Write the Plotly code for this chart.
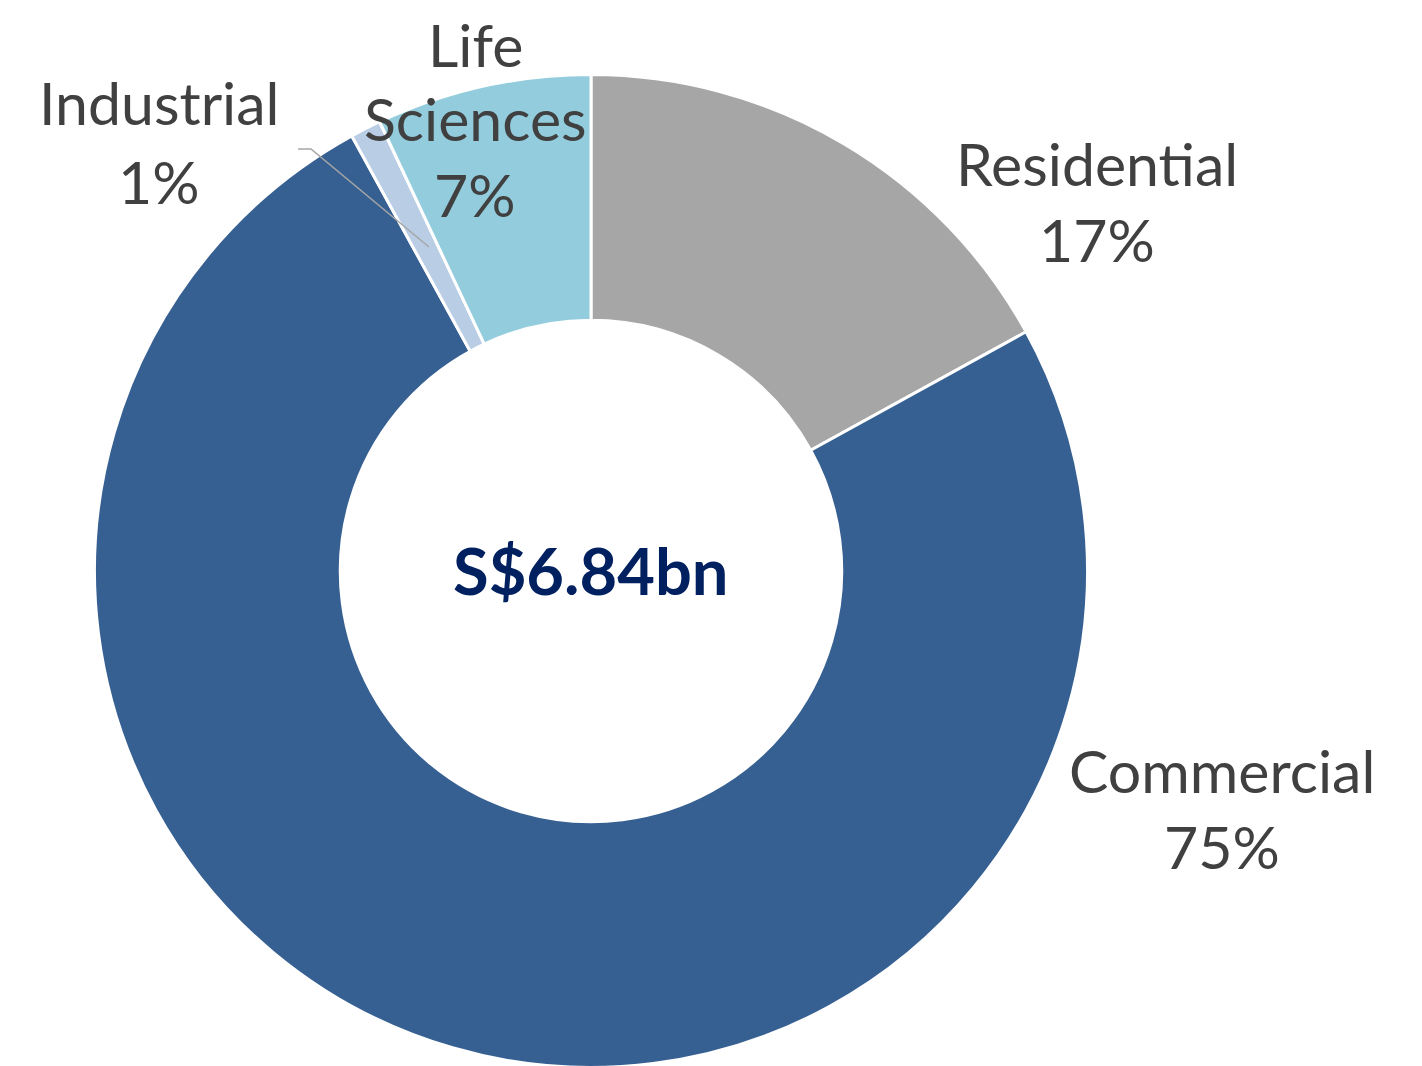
import plotly.graph_objects as go

categories = ["Residential", "Commercial", "Industrial", "Life Sciences"]
values = [17, 75, 1, 7]
colors = ["#A6A6A6", "#376092", "#B9CDE5", "#93CDDD"]
center_text = "S$6.84bn"

W, H = 1422, 1066
cx, cy, R = 583, 563, 496.5

fig = go.Figure()
fig.add_trace(go.Pie(
    labels=categories, values=values, sort=False, direction="clockwise",
    rotation=0, hole=0.505, textinfo="none", hoverinfo="label+percent",
    marker=dict(colors=colors, line=dict(color="white", width=3)),
    domain=dict(x=[(cx - R) / W, (cx + R) / W], y=[(H - cy - R) / H, (H - cy + R) / H]),
    showlegend=False,
))

def px(x, y):
    return x / W, 1 - y / H

# label line positions (pixel centers) for each category
label_lines = {
    "Residential": [("Residential", 1089, 155), ("{p}", 1089, 231)],
    "Commercial": [("Commercial", 1214, 762), ("{p}", 1214, 838)],
    "Industrial": [("Industrial", 151, 95), ("{p}", 151, 173)],
    "Life Sciences": [("Life", 467, None), ("Sciences", 467, 110), ("{p}", 467, 187)],
}
total = sum(values)
for cat, val in zip(categories, values):
    pct = f"{round(100 * val / total)}%"
    for txt, x, y in label_lines[cat]:
        if y is None:
            ax, ay = px(x, 0)
            anchor = "top"
        else:
            ax, ay = px(x, y)
            anchor = "middle"
        fig.add_annotation(x=ax, y=ay, xref="paper", yref="paper", text=txt.format(p=pct),
                           showarrow=False, xanchor="center", yanchor=anchor, borderpad=0,
                           font=dict(family="Lato", size=59, color="#404040"))

# leader line for Industrial
x0, y0 = px(290, 141)
x1, y1 = px(303, 141)
x2, y2 = px(421, 239)
fig.add_shape(type="path", xref="paper", yref="paper",
              path=f"M {x0} {y0} L {x1} {y1} L {x2} {y2}",
              line=dict(color="#A6A6A6", width=1.5))

cxp, cyp = px(582, 562)
fig.add_annotation(x=cxp, y=cyp, xref="paper", yref="paper", text=f"<b>{center_text}</b>",
                   showarrow=False, xanchor="center", yanchor="middle",
                   font=dict(family="Lato", size=65, color="#002060"))

fig.update_layout(width=W, height=H, margin=dict(l=0, r=0, t=0, b=0),
                  paper_bgcolor="white", plot_bgcolor="white")
fig.write_html("out.html")
